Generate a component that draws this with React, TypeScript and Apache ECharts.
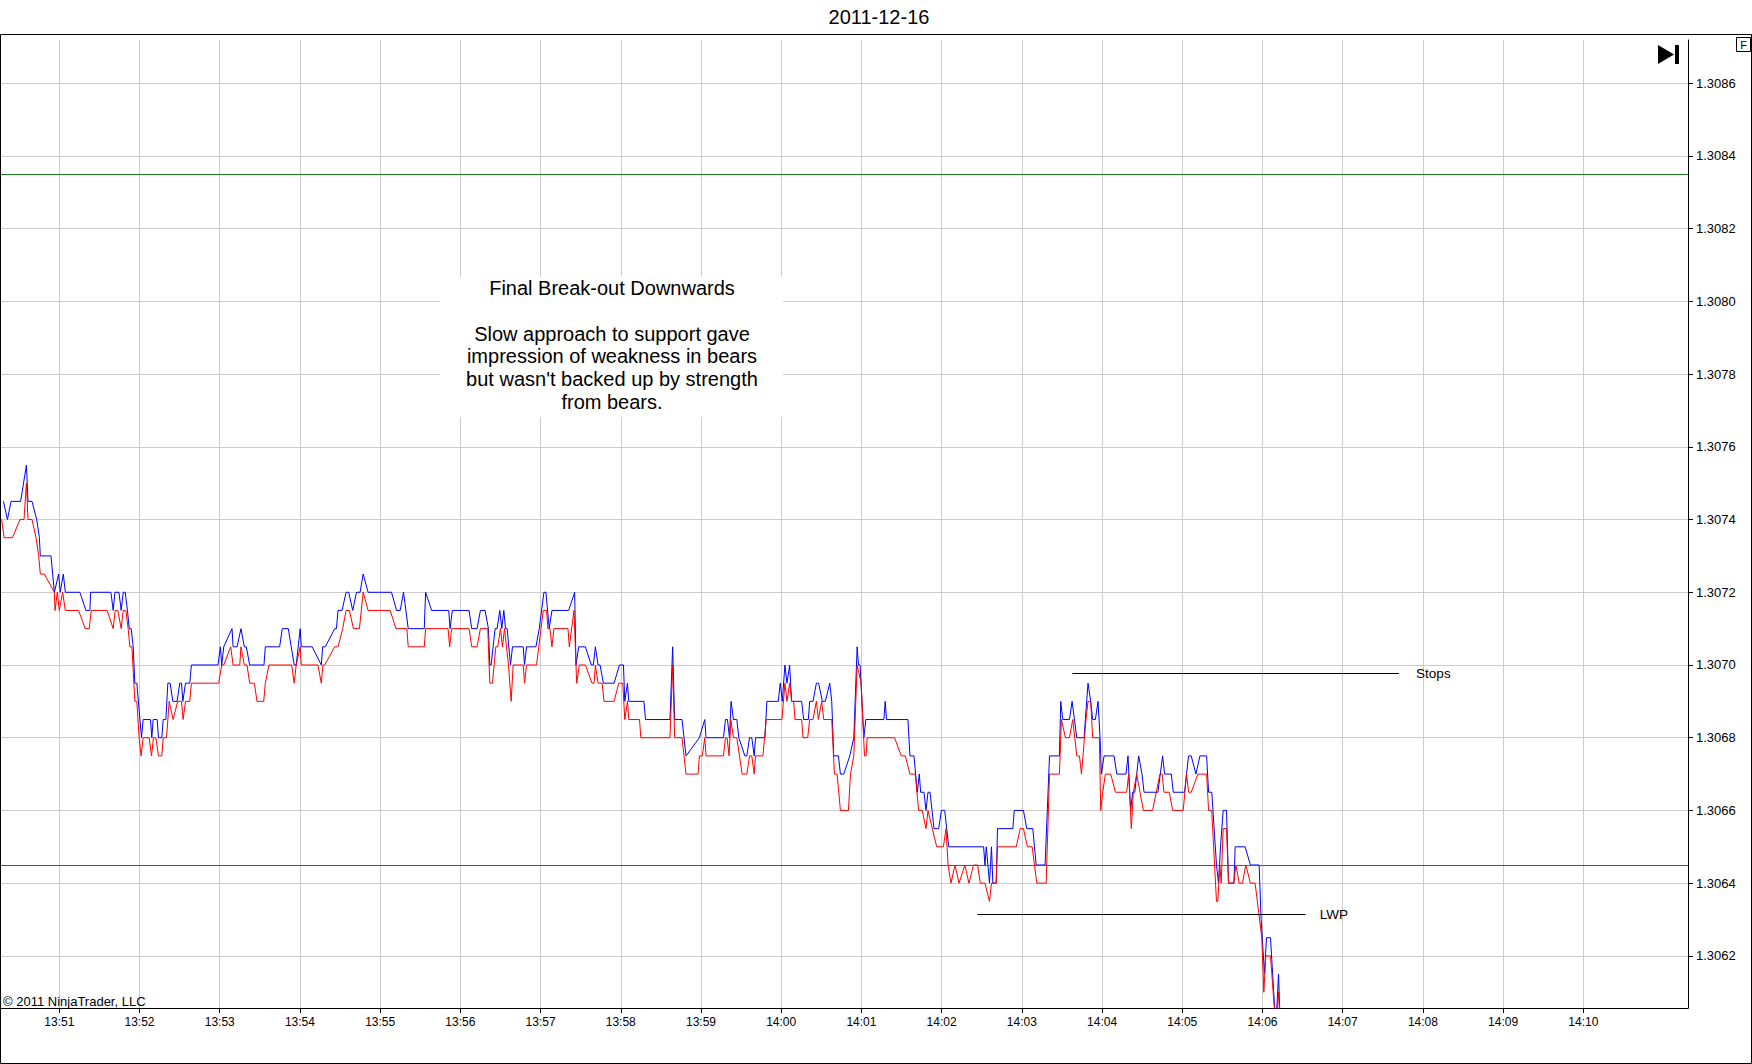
import React, { useEffect, useRef } from 'react';
import * as echarts from 'echarts';

// x values: seconds after 13:50:00 on 2011-12-16
const chartDate = '2011-12-16';
const xMinSec = 15.64;
const xMaxSec = 1278.3;
const xTickSeconds = [60, 120, 180, 240, 300, 360, 420, 480, 540, 600, 660, 720, 780, 840, 900, 960, 1020, 1080, 1140, 1200];
const yMin = 1.3060567;
const yMax = 1.3087188;
const yTickValues = [1.3062, 1.3064, 1.3066, 1.3068, 1.307, 1.3072, 1.3074, 1.3076, 1.3078, 1.308, 1.3082, 1.3084, 1.3086];
const levelLines = [1.30835, 1.30645];
const stopsTimes = [817.8, 1062.2];
const stopsPrice = 1.306977;
const lwpTimes = [746.7, 992.3];
const lwpPrice = 1.306314;
const noteLines = [
  'Final Break-out Downwards',
  '',
  'Slow approach to support gave',
  'impression of weakness in bears',
  "but wasn't backed up by strength",
  'from bears.',
];

const blueTimes = [
  18.2, 21.2, 23.9, 31.1, 35.4, 36.6, 39.6, 43.1, 45.1, 45.8, 53.8, 56.3, 59.5, 60.7, 63.0, 64.5, 75.4, 79.9, 82.9, 83.4,
  98.6, 100.3, 101.6, 104.6, 106.3, 107.8, 109.3, 111.0, 112.3, 113.8, 115.3, 116.5, 118.0, 121.5, 122.7, 128.2, 129.2, 130.2, 133.2, 134.2,
  136.7, 137.7, 139.7, 141.2, 142.9, 144.9, 148.1, 150.1, 151.4, 152.4, 154.4, 157.6, 158.8, 178.7, 180.5, 181.5, 183.0, 189.2, 190.0, 193.0,
  195.9, 198.4, 199.9, 202.4, 213.1, 214.1, 224.8, 226.8, 231.3, 235.7, 237.2, 240.2, 241.0, 249.2, 256.0, 257.0, 259.0,
  266.0, 267.3, 268.5, 271.5, 274.5, 276.5, 279.5, 282.3, 285.0, 287.3, 291.0, 308.5, 312.3, 315.0, 317.5, 321.0, 333.0, 334.0, 338.5, 351.3,
  352.3, 354.0, 366.5, 368.5, 372.5, 375.0, 378.5, 381.0, 382.0, 383.0, 386.0, 387.5, 389.5, 391.0, 392.5, 393.8, 395.0, 397.5, 399.0, 407.0,
  408.0, 409.5, 416.5, 419.0, 422.5, 424.0, 426.5, 428.5, 441.0, 445.5, 446.5, 448.5, 453.5, 458.0, 459.5, 461.0, 463.0, 464.5, 467.0, 475.0,
  479.0, 482.0, 483.0, 485.0, 486.0, 497.3, 498.5,
  516.8, 518.8, 520.3, 525.8, 528.8, 538.8, 542.8, 543.8, 556.8, 558.3, 559.8, 561.3, 562.5, 564.3, 566.8, 568.3, 572.8, 574.3, 576.3, 578.0,
  579.8, 580.8, 587.8, 589.3, 597.8, 599.3, 600.8, 602.8, 604.3, 606.3, 607.8, 615.3, 616.8, 620.3, 621.3, 623.8, 626.3, 628.0, 630.8, 633.0,
  636.3, 637.8, 639.3, 642.8, 644.3, 646.8, 651.3, 654.3, 656.8, 657.8, 659.0, 661.8, 663.3, 676.8, 677.8, 678.8, 694.8, 696.3, 699.3, 701.8,
  703.3, 704.3, 706.8, 708.3, 709.8, 711.3, 712.8, 714.3, 717.8, 719.8, 722.3, 725.3,
  751.4, 752.4, 753.4, 755.8, 757.3, 758.3, 760.8, 761.8, 773.3, 774.3, 781.2, 783.7, 788.2, 790.7, 797.4, 800.7, 808.1, 809.1, 810.6, 815.6,
  817.6, 821.1, 826.6, 827.5, 829.5, 831.5, 833.0, 835.0, 837.0, 838.5, 839.5, 841.5, 849.0, 851.0, 857.9, 859.4, 861.4, 862.9, 864.5, 867.4,
  869.9, 871.4, 881.8, 885.3, 886.8, 891.8, 893.3, 901.7, 903.2, 904.7, 906.7, 910.2, 913.2, 918.2, 919.7, 922.1, 925.6, 927.1, 928.6, 930.6,
  933.1, 934.6, 938.6, 939.6, 947.0, 951.0, 957.5, 959.0, 961.5, 963.0, 966.0, 970.0, 972.0, 973.4,
];
const bluePrices = [
  1.30745, 1.3074, 1.30745, 1.30745, 1.30755, 1.30745, 1.30745, 1.3074, 1.30735, 1.3073, 1.3073, 1.3072, 1.30725, 1.3072, 1.30725, 1.3072, 1.3072, 1.30715, 1.30715, 1.3072,
  1.3072, 1.30715, 1.3072, 1.3072, 1.30715, 1.3072, 1.3072, 1.30715, 1.3071, 1.3071, 1.30705, 1.30695, 1.30695, 1.3068, 1.30685, 1.30685, 1.3068, 1.30685, 1.30685, 1.3068,
  1.3068, 1.30685, 1.30685, 1.30695, 1.30695, 1.3069, 1.3069, 1.30695, 1.30695, 1.3069, 1.30695, 1.30695, 1.307, 1.307, 1.30705, 1.307, 1.30705, 1.3071, 1.30705, 1.30705,
  1.3071, 1.30705, 1.30705, 1.307, 1.307, 1.30705, 1.30705, 1.3071, 1.3071, 1.307, 1.307, 1.3071, 1.30705, 1.30705, 1.307, 1.30705, 1.30705,
  1.3071, 1.3071, 1.30715, 1.30715, 1.3072, 1.3072, 1.30715, 1.3072, 1.3072, 1.30725, 1.3072, 1.3072, 1.30715, 1.30715, 1.3072, 1.3071, 1.3071, 1.3072, 1.30715, 1.30715,
  1.3071, 1.30715, 1.30715, 1.3071, 1.3071, 1.30715, 1.30715, 1.3071, 1.307, 1.307, 1.3071, 1.3071, 1.30715, 1.3071, 1.30715, 1.3071, 1.3071, 1.307, 1.30705, 1.30705,
  1.307, 1.30705, 1.30705, 1.3071, 1.3072, 1.3072, 1.3071, 1.30715, 1.30715, 1.3072, 1.307, 1.30705, 1.30705, 1.307, 1.307, 1.30705, 1.307, 1.307, 1.30695, 1.30695,
  1.307, 1.307, 1.3069, 1.30695, 1.3069, 1.3069, 1.30685,
  1.30685, 1.30705, 1.30685, 1.30685, 1.30675, 1.3068, 1.30685, 1.3068, 1.3068, 1.30685, 1.30685, 1.3068, 1.3069, 1.30685, 1.30685, 1.3068, 1.30675, 1.30675, 1.3068, 1.3068,
  1.30675, 1.3068, 1.3068, 1.3069, 1.3069, 1.30695, 1.3069, 1.307, 1.30695, 1.307, 1.3069, 1.3069, 1.30685, 1.30685, 1.3069, 1.3069, 1.30695, 1.30695, 1.3069, 1.3069,
  1.30695, 1.3069, 1.30675, 1.30675, 1.3067, 1.3067, 1.30675, 1.3068, 1.30705, 1.307, 1.307, 1.3068, 1.30685, 1.30685, 1.3069, 1.30685, 1.30685, 1.30675, 1.30675, 1.30665,
  1.3067, 1.30665, 1.30665, 1.3066, 1.30665, 1.30665, 1.3066, 1.30655, 1.30655, 1.3066, 1.3066, 1.3065,
  1.3065, 1.30645, 1.3065, 1.3064, 1.3065, 1.3064, 1.3064, 1.30655, 1.30655, 1.3066, 1.3066, 1.30655, 1.30655, 1.30645, 1.30645, 1.30675, 1.30675, 1.3069, 1.30685, 1.30685,
  1.3069, 1.3068, 1.3068, 1.30685, 1.30695, 1.3069, 1.30685, 1.30685, 1.3069, 1.3068, 1.3067, 1.30675, 1.30675, 1.3067, 1.3067, 1.30675, 1.3066, 1.30665, 1.30665, 1.30675,
  1.3067, 1.30665, 1.30665, 1.30675, 1.3067, 1.3067, 1.30665, 1.30665, 1.3067, 1.30675, 1.30675, 1.3067, 1.30675, 1.30675, 1.30665, 1.30665, 1.30645, 1.3064, 1.3065, 1.3066,
  1.3066, 1.3064, 1.3064, 1.3065, 1.3065, 1.30645, 1.30645, 1.3063, 1.30615, 1.30625, 1.30625, 1.306, 1.30615, 1.306,
];

const redTimes = [
  16.9, 18.7, 24.9, 30.6, 33.6, 35.4, 36.6, 39.6, 42.6, 44.6, 45.8, 48.8, 56.3, 56.8, 58.5, 60.0, 62.5, 64.5, 74.4, 79.4,
  82.4, 83.9, 95.8, 100.3, 101.8, 103.8, 106.3, 107.8, 109.8, 111.5, 112.8, 114.3, 116.5, 118.0, 119.7, 121.2, 122.7, 127.2, 129.0, 130.4,
  132.2, 134.2, 136.7, 137.7, 140.2, 142.2, 145.1, 148.6, 151.4, 152.6, 154.4, 157.6, 158.8, 179.2, 181.5, 183.0, 188.2, 190.0, 195.0, 195.9,
  198.4, 200.4, 202.4, 205.9, 207.9, 212.9, 214.1, 216.8, 233.8, 235.7, 237.2, 240.2, 241.0, 253.4, 256.0, 257.2,
  258.5, 266.0, 268.5, 272.0, 274.5, 277.0, 280.0, 284.5, 287.3, 291.0, 307.5, 311.8, 320.0, 321.0, 333.0, 334.0, 350.8, 352.0, 353.5, 366.5,
  368.5, 372.5, 375.0, 380.5, 382.0, 384.0, 386.5, 388.0, 390.0, 391.5, 393.0, 396.0, 398.0, 399.5, 407.0, 408.0, 409.5, 417.0, 422.0, 424.5,
  425.5, 427.0, 428.5, 430.0, 440.5, 441.5, 445.0, 447.0, 449.0, 453.5, 458.5, 460.0, 461.0, 463.0, 466.0, 467.5, 475.0, 478.5, 481.5, 483.0,
  485.0, 486.0, 494.0, 495.0,
  516.8, 518.8, 520.3, 525.8, 528.8, 537.8, 538.8, 541.0, 542.8, 543.8, 556.8, 558.3, 559.5, 561.0, 562.3, 564.3, 566.8, 568.8, 570.8, 574.3,
  576.3, 578.0, 579.8, 580.8, 586.3, 588.8, 598.3, 600.5, 602.8, 604.3, 606.3, 607.8, 609.3, 610.3, 615.3, 616.3, 619.8, 621.3, 623.8, 626.3,
  627.8, 630.3, 631.8, 637.8, 639.8, 641.8, 644.3, 650.3, 651.8, 654.3, 656.8, 659.8, 662.3, 663.5, 664.3, 684.8, 689.8, 692.8, 696.3, 700.3,
  702.8, 705.5, 708.3, 709.8, 716.3, 721.3, 723.3, 724.8, 727.0, 730.0, 733.0,
  737.4, 740.4, 743.9, 746.9, 748.9, 752.4, 755.8, 757.3, 760.8, 761.8, 775.8, 778.8, 781.2, 784.2, 787.7, 791.2, 798.2, 800.7, 808.1, 809.6,
  812.6, 815.6, 818.1, 821.1, 823.1, 824.6, 828.0, 829.5, 831.5, 833.0, 838.0, 839.0, 840.5, 842.5, 846.5, 850.0, 858.4, 859.9, 861.9, 863.4,
  865.9, 868.4, 870.9, 877.8, 883.3, 885.0, 886.3, 890.3, 892.8, 900.7, 903.2, 904.7, 906.7, 911.7, 918.2, 919.7, 922.0, 925.6, 926.6, 928.1,
  929.1, 930.6, 933.1, 934.6, 938.6, 940.1, 942.6, 945.0, 947.5, 951.0, 954.5, 959.5, 961.0, 962.5, 966.0, 970.0, 972.0, 973.4,
];
const redPrices = [
  1.3074, 1.30735, 1.30735, 1.3074, 1.3074, 1.3075, 1.3074, 1.3074, 1.30735, 1.3073, 1.30725, 1.30725, 1.3072, 1.30715, 1.3072, 1.30715, 1.3072, 1.30715, 1.30715, 1.3071,
  1.3071, 1.30715, 1.30715, 1.3071, 1.30715, 1.30715, 1.3071, 1.30715, 1.30715, 1.3071, 1.30705, 1.30705, 1.3069, 1.3069, 1.3068, 1.30675, 1.3068, 1.3068, 1.30675, 1.3068,
  1.3068, 1.30675, 1.30675, 1.3068, 1.3068, 1.3069, 1.30685, 1.3069, 1.3069, 1.30685, 1.3069, 1.3069, 1.30695, 1.30695, 1.307, 1.307, 1.30705, 1.307, 1.307, 1.30705,
  1.307, 1.307, 1.30695, 1.30695, 1.3069, 1.3069, 1.30695, 1.307, 1.307, 1.30695, 1.307, 1.30705, 1.307, 1.307, 1.30695, 1.307,
  1.307, 1.30705, 1.30705, 1.3071, 1.30715, 1.30715, 1.3071, 1.3071, 1.3072, 1.30715, 1.30715, 1.3071, 1.3071, 1.30705, 1.30705, 1.3071, 1.3071, 1.30705, 1.3071, 1.3071,
  1.30705, 1.30705, 1.3071, 1.3071, 1.30695, 1.30695, 1.30705, 1.30705, 1.3071, 1.30705, 1.3071, 1.307, 1.3069, 1.307, 1.307, 1.30695, 1.307, 1.307, 1.30715, 1.30715,
  1.3071, 1.3071, 1.30705, 1.3071, 1.3071, 1.30705, 1.30715, 1.30695, 1.307, 1.307, 1.30695, 1.30695, 1.307, 1.30695, 1.30695, 1.3069, 1.3069, 1.30695, 1.30695, 1.30685,
  1.3069, 1.30685, 1.30685, 1.3068,
  1.3068, 1.307, 1.3068, 1.3068, 1.3067, 1.3067, 1.30675, 1.30675, 1.3068, 1.30675, 1.30675, 1.3068, 1.3068, 1.30675, 1.30685, 1.3068, 1.3068, 1.30675, 1.3067, 1.3067,
  1.30675, 1.30675, 1.3067, 1.30675, 1.30675, 1.30685, 1.30685, 1.30685, 1.30695, 1.3069, 1.30695, 1.3069, 1.3069, 1.30685, 1.30685, 1.3068, 1.3068, 1.30685, 1.30685, 1.3069,
  1.30685, 1.3069, 1.30685, 1.30685, 1.3067, 1.3067, 1.3066, 1.3066, 1.3067, 1.30675, 1.307, 1.30695, 1.30675, 1.30675, 1.3068, 1.3068, 1.30675, 1.30675, 1.3067, 1.3067,
  1.3066, 1.3066, 1.30655, 1.3066, 1.3065, 1.3065, 1.30655, 1.30645, 1.3064, 1.30645, 1.3064,
  1.30645, 1.3064, 1.30645, 1.30645, 1.3064, 1.3064, 1.30635, 1.3064, 1.3064, 1.3065, 1.3065, 1.30655, 1.30655, 1.3065, 1.3065, 1.3064, 1.3064, 1.3067, 1.3067, 1.30685,
  1.3068, 1.3068, 1.30685, 1.30675, 1.30675, 1.3067, 1.30685, 1.3069, 1.3069, 1.3068, 1.3068, 1.3066, 1.30665, 1.3067, 1.3067, 1.30665, 1.30665, 1.3067, 1.30655, 1.30665,
  1.3067, 1.30665, 1.3066, 1.3066, 1.3067, 1.3067, 1.30665, 1.30665, 1.3066, 1.3066, 1.3067, 1.30665, 1.30665, 1.3067, 1.3067, 1.3066, 1.3066, 1.30635, 1.30635, 1.30645,
  1.3064, 1.30655, 1.30655, 1.3064, 1.3064, 1.30645, 1.3064, 1.3064, 1.30645, 1.3064, 1.3064, 1.30625, 1.3061, 1.3062, 1.3062, 1.306, 1.3061, 1.306,
];

const FONT = '"Liberation Sans", Arial, sans-serif';

function formatClock(sec: number): string {
  const total = 13 * 3600 + 50 * 60 + Math.round(sec);
  const h = Math.floor(total / 3600);
  const m = Math.floor((total % 3600) / 60);
  return `${h}:${m < 10 ? '0' : ''}${m}`;
}

export default function App() {
  const ref = useRef<HTMLDivElement>(null);

  useEffect(() => {
    document.body.style.margin = '0';
    if (!ref.current) return;
    const chart = echarts.init(ref.current, undefined, { renderer: 'svg' });

    const blueData = blueTimes.map((t, i) => [t, bluePrices[i]]);
    const redData = redTimes.map((t, i) => [t, redPrices[i]]);

    const levelItems = levelLines.map((v) => [
      {
        coord: [xMinSec, v],
        lineStyle: { color: '#1f7f1f', width: 1, type: 'solid' },
        label: { show: false },
      },
      { coord: [xMaxSec, v] },
    ]);

    const option: any = {
      animation: false,
      backgroundColor: '#ffffff',
      grid: { left: 0, right: 64, top: 40, bottom: 56, containLabel: false },
      xAxis: {
        type: 'value',
        min: xMinSec,
        max: xMaxSec,
        axisLine: { show: true, onZero: false, lineStyle: { color: '#000', width: 1 } },
        axisTick: { show: true, length: 5, customValues: xTickSeconds, lineStyle: { color: '#000' } },
        axisLabel: {
          customValues: xTickSeconds,
          formatter: (v: number) => formatClock(v),
          color: '#000',
          fontFamily: FONT,
          fontSize: 12,
          margin: 8,
        },
        splitLine: { show: true, lineStyle: { color: '#cccccc', width: 1 } },
      },
      yAxis: {
        type: 'value',
        position: 'right',
        min: yMin,
        max: yMax,
        scale: true,
        axisLine: { show: true, lineStyle: { color: '#000', width: 1 } },
        axisTick: { show: true, length: 5, customValues: yTickValues, lineStyle: { color: '#000' } },
        axisLabel: {
          customValues: yTickValues,
          formatter: (v: number) => v.toFixed(4),
          color: '#000',
          fontFamily: FONT,
          fontSize: 13,
          margin: 8,
        },
        splitLine: { show: true, lineStyle: { color: '#cccccc', width: 1 } },
      },
      series: [
        {
          name: 'Ask',
          type: 'line',
          data: blueData,
          showSymbol: false,
          symbol: 'none',
          clip: true,
          lineStyle: { color: '#0000ff', width: 1 },
          itemStyle: { color: '#0000ff' },
          z: 3,
        },
        {
          name: 'Bid',
          type: 'line',
          data: redData,
          showSymbol: false,
          symbol: 'none',
          clip: true,
          lineStyle: { color: '#ff0000', width: 1 },
          itemStyle: { color: '#ff0000' },
          z: 4,
          markLine: {
            silent: true,
            symbol: ['none', 'none'],
            lineStyle: { color: '#000', width: 1, type: 'solid' },
            label: {
              show: true,
              position: 'end',
              distance: 15,
              color: '#000',
              fontFamily: FONT,
              fontSize: 13.5,
            },
            data: [
              ...levelItems,
              [
                { coord: [stopsTimes[0], stopsPrice], label: { formatter: 'Stops', distance: 17 } },
                { coord: [stopsTimes[1], stopsPrice] },
              ],
              [
                { coord: [lwpTimes[0], lwpPrice], label: { formatter: 'LWP', distance: 14 } },
                { coord: [lwpTimes[1], lwpPrice] },
              ],
            ],
          },
        },
      ],
      graphic: [
        {
          type: 'rect',
          silent: true,
          z: 100,
          shape: { x: 0.5, y: 34.5, width: 1751, height: 1029 },
          style: { fill: 'none', stroke: '#000', lineWidth: 1 },
        },
        {
          type: 'text',
          silent: true,
          z: 100,
          style: {
            text: chartDate,
            x: 879,
            y: 16.5,
            align: 'center',
            verticalAlign: 'middle',
            fontFamily: FONT,
            fontSize: 20,
            fill: '#000',
          },
        },
        {
          type: 'rect',
          silent: true,
          z: 100,
          shape: { x: 440, y: 277, width: 343, height: 140 },
          style: { fill: '#ffffff', stroke: 'none' },
        },
        {
          type: 'text',
          silent: true,
          z: 101,
          style: {
            text: noteLines.join('\n'),
            x: 612,
            y: 277,
            align: 'center',
            verticalAlign: 'top',
            fontFamily: FONT,
            fontSize: 20,
            lineHeight: 22.7,
            fill: '#000',
          },
        },
        {
          type: 'text',
          silent: true,
          z: 100,
          style: {
            text: '\u00a9 2011 NinjaTrader, LLC',
            x: 3,
            y: 1001,
            align: 'left',
            verticalAlign: 'middle',
            fontFamily: FONT,
            fontSize: 13,
            fill: '#000',
          },
        },
        {
          type: 'rect',
          silent: true,
          z: 100,
          shape: { x: 1736.5, y: 37.5, width: 14, height: 14 },
          style: { fill: '#fff', stroke: '#000', lineWidth: 1 },
        },
        {
          type: 'text',
          silent: true,
          z: 101,
          style: {
            text: 'F',
            x: 1743.5,
            y: 44.8,
            align: 'center',
            verticalAlign: 'middle',
            fontFamily: FONT,
            fontSize: 11,
            fill: '#000',
          },
        },
        {
          type: 'polygon',
          silent: true,
          z: 100,
          shape: { points: [[1658, 45], [1674, 54.5], [1658, 64]] },
          style: { fill: '#000' },
        },
        {
          type: 'rect',
          silent: true,
          z: 100,
          shape: { x: 1675, y: 45, width: 4, height: 19 },
          style: { fill: '#000' },
        },
      ],
    };

    chart.setOption(option);
    return () => {
      chart.dispose();
    };
  }, []);

  return <div ref={ref} style={{ width: 1752, height: 1064 }} />;
}
